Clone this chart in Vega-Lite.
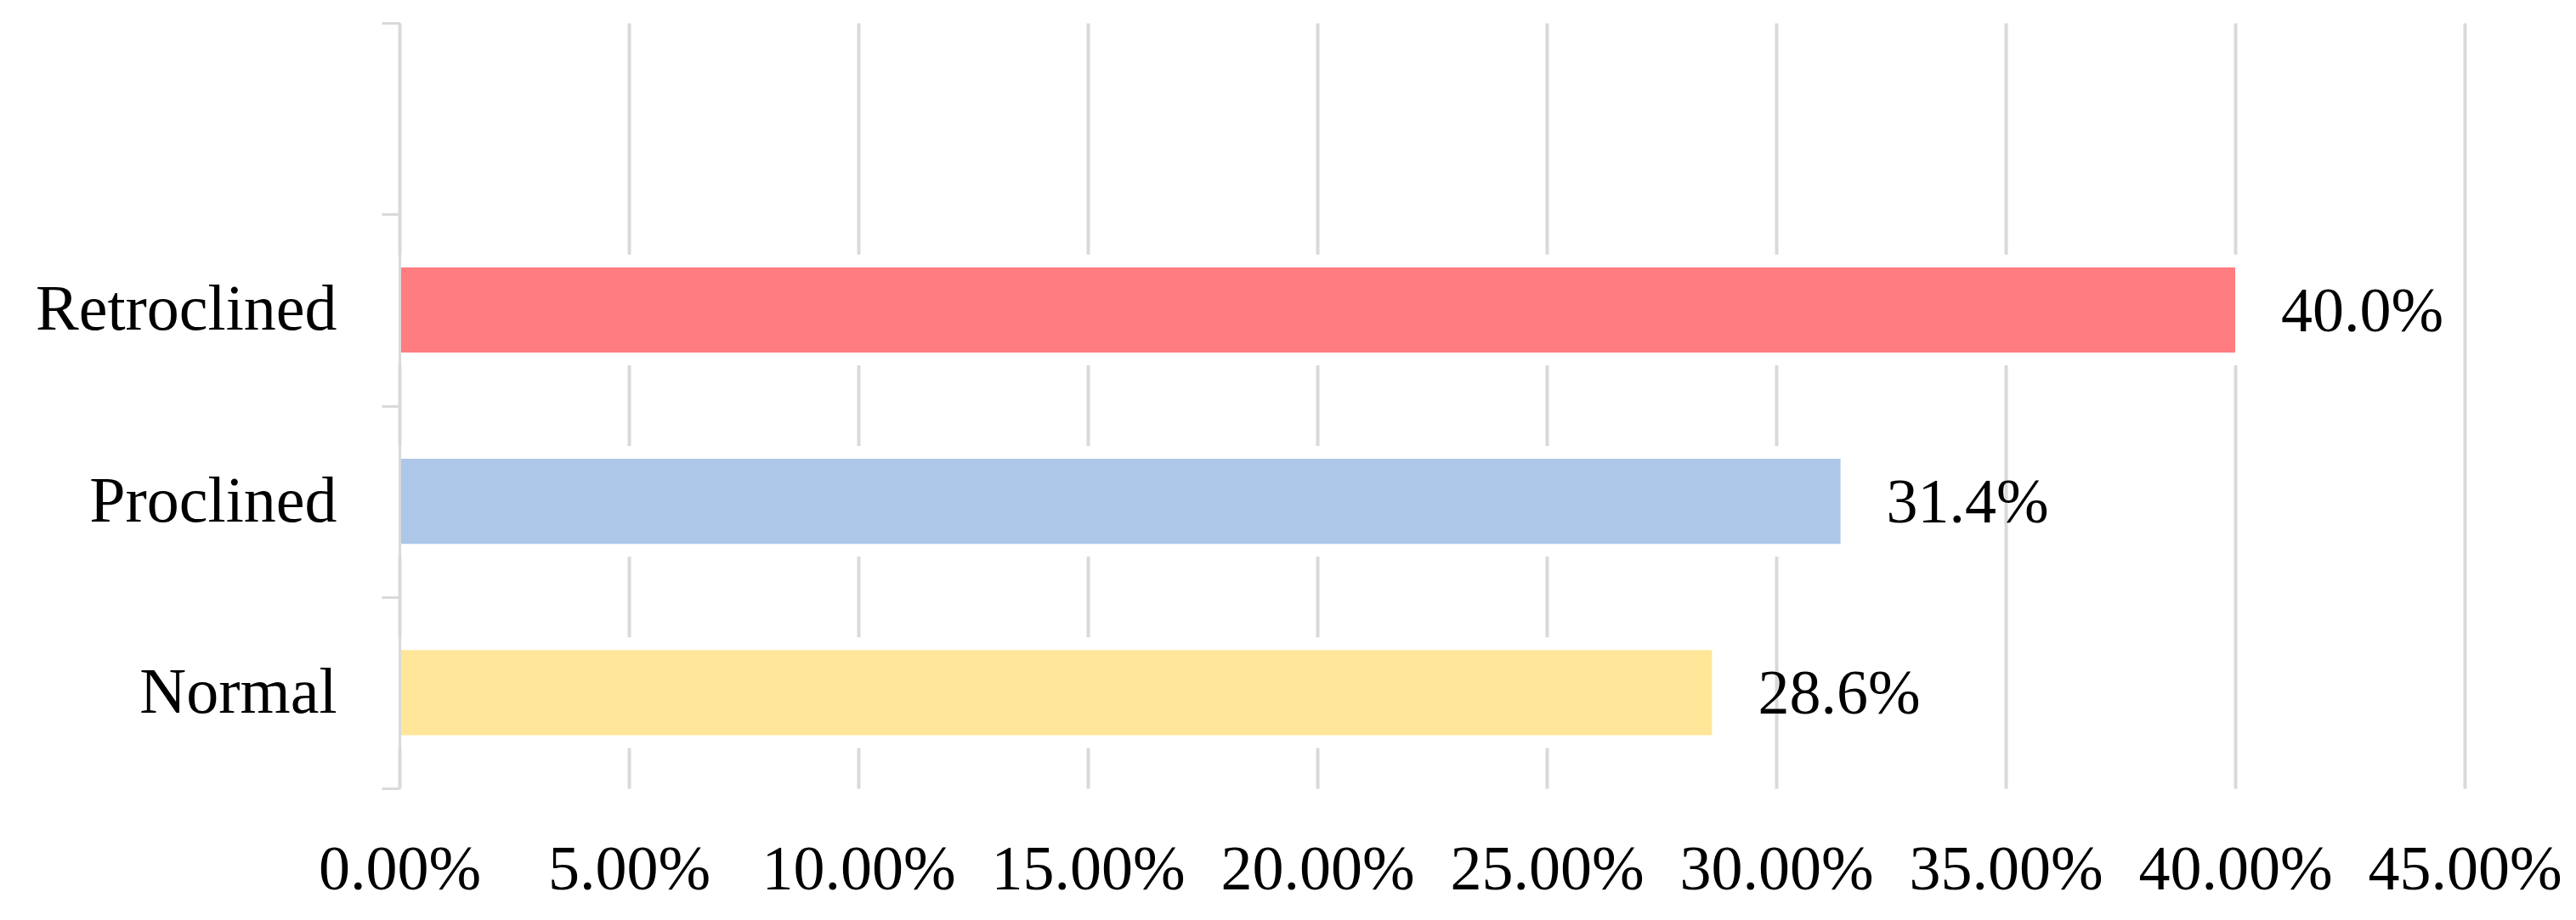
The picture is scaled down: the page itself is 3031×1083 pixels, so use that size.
{
  "$schema": "https://vega.github.io/schema/vega-lite/v6.json",
  "autosize": "none",
  "width": 2430,
  "height": 901,
  "padding": {"left": 470, "top": 27, "right": 131, "bottom": 155},
  "background": "white",
  "config": {
    "view": {"stroke": null},
    "font": "Liberation Serif"
  },
  "data": {
    "values": [
      {"category": "Retroclined", "value": 0.400},
      {"category": "Proclined", "value": 0.314},
      {"category": "Normal", "value": 0.286}
    ]
  },
  "encoding": {
    "y": {
      "field": "category",
      "type": "nominal",
      "scale": {"domain": [" ", "Retroclined", "Proclined", "Normal"], "paddingInner": 0, "paddingOuter": 0},
      "axis": {
        "title": null,
        "zindex": 1,
        "grid": false,
        "tickBand": "extent",
        "domainColor": "#d9d9d9",
        "domainWidth": 3,
        "tickColor": "#d9d9d9",
        "tickWidth": 3,
        "tickSize": 21,
        "labelPadding": 53,
        "labelLimit": 0,
        "labelFont": "Liberation Serif",
        "labelFontSize": 76,
        "labelColor": "#000000"
      }
    }
  },
  "layer": [
    {
      "mark": {"type": "bar", "color": "white", "stroke": "white", "strokeWidth": 30, "height": {"band": 0.445}},
      "encoding": {
        "x": {
          "field": "value",
          "type": "quantitative",
          "scale": {"domain": [0, 0.45], "nice": false},
          "axis": {
            "title": null,
            "zindex": 0,
            "values": [0, 0.05, 0.1, 0.15, 0.2, 0.25, 0.3, 0.35, 0.4, 0.45],
            "format": ".2%",
            "domain": false,
            "ticks": false,
            "grid": true,
            "gridColor": "#d9d9d9",
            "gridWidth": 4,
            "labelPadding": 60,
            "labelLimit": 0,
            "labelFont": "Liberation Serif",
            "labelFontSize": 74,
            "labelColor": "#000000",
            "labelFlush": false
          }
        }
      }
    },
    {
      "mark": {"type": "bar", "height": {"band": 0.445}},
      "encoding": {
        "x": {"field": "value", "type": "quantitative"},
        "color": {
          "field": "category",
          "type": "nominal",
          "scale": {"domain": ["Retroclined", "Proclined", "Normal"], "range": ["#FF7C80", "#ADC7E8", "#FFE699"]},
          "legend": null
        }
      }
    },
    {
      "mark": {"type": "text", "align": "left", "baseline": "middle", "dx": 54, "dy": 3, "font": "Liberation Serif", "fontSize": 74, "color": "#000000"},
      "encoding": {
        "x": {"field": "value", "type": "quantitative"},
        "text": {"field": "value", "type": "quantitative", "format": ".1%"}
      }
    }
  ]
}
